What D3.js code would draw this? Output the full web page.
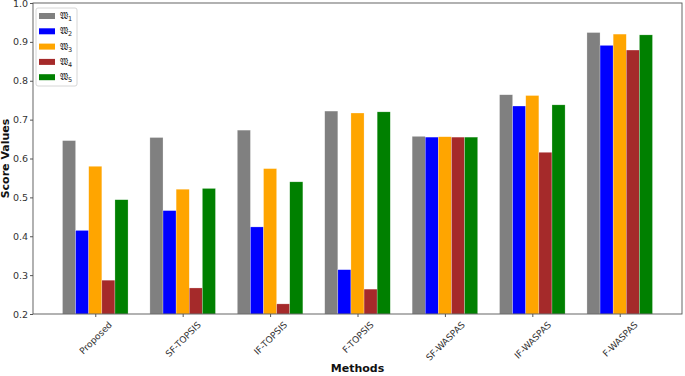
<!DOCTYPE html>
<html>
<head>
<meta charset="utf-8">
<script src="https://cdn.jsdelivr.net/npm/d3@7"></script>
<style>
  body { margin: 0; background: #fff; }
  svg { font-family: "DejaVu Sans", sans-serif; }
</style>
</head>
<body>
<div id="chart"></div>
<script>
const methods = ['Proposed', 'SF-TOPSIS', 'IF-TOPSIS', 'F-TOPSIS', 'SF-WASPAS', 'IF-WASPAS', 'F-WASPAS'];
const seriesNames = ['1', '2', '3', '4', '5'];
const seriesColors = ['#808080', '#0000ff', '#ffa500', '#a52a2a', '#008000'];
const w1 = [0.646, 0.654, 0.673, 0.722, 0.657, 0.764, 0.924];
const w2 = [0.415, 0.466, 0.424, 0.314, 0.655, 0.735, 0.891];
const w3 = [0.580, 0.521, 0.574, 0.717, 0.656, 0.762, 0.920];
const w4 = [0.287, 0.267, 0.226, 0.264, 0.655, 0.616, 0.879];
const w5 = [0.494, 0.523, 0.540, 0.720, 0.655, 0.738, 0.918];
const yTicks = [0.2, 0.3, 0.4, 0.5, 0.6, 0.7, 0.8, 0.9, 1.0];

const series = [w1, w2, w3, w4, w5];
const width = 685, height = 376;
const margin = { left: 33, right: 3, top: 3, bottom: 62 };
const barW = 0.15;

const svg = d3.select('#chart').append('svg')
  .attr('width', width)
  .attr('height', height);

// x in "data units" like matplotlib: groups at 0..6
const x = d3.scaleLinear()
  .domain([-0.7125, methods.length - 1 + 0.7125])
  .range([margin.left, width - margin.right]);

const y = d3.scaleLinear()
  .domain([0.2, 1.0])
  .range([height - margin.bottom, margin.top]);

// bars
series.forEach((vals, s) => {
  svg.append('g')
    .selectAll('rect')
    .data(vals)
    .join('rect')
    .attr('x', (d, i) => x(i + (s - 2) * barW - barW / 2))
    .attr('width', x(barW) - x(0))
    .attr('y', d => y(d))
    .attr('height', d => y(0.2) - y(d))
    .attr('fill', seriesColors[s])
    .attr('stroke', '#fff')
    .attr('stroke-opacity', 0.5)
    .attr('stroke-width', 0.5);
});

// frame
svg.append('rect')
  .attr('x', margin.left)
  .attr('y', margin.top)
  .attr('width', width - margin.left - margin.right)
  .attr('height', height - margin.top - margin.bottom)
  .attr('fill', 'none')
  .attr('stroke', '#555')
  .attr('stroke-width', 0.9);

// y axis
const yAxis = svg.append('g')
  .attr('transform', `translate(${margin.left},0)`)
  .call(d3.axisLeft(y).tickValues(yTicks).tickFormat(d3.format('.1f')).tickSize(3).tickPadding(2));
yAxis.select('.domain').remove();
yAxis.selectAll('line').attr('stroke', '#555');
yAxis.selectAll('text').attr('font-size', 9.5).attr('fill', '#333')
  .attr('font-family', '"DejaVu Sans", sans-serif');

// x axis, labels rotated 45 and centred under the tick (matplotlib ha=center)
const xAxis = svg.append('g')
  .attr('transform', `translate(0,${height - margin.bottom})`)
  .call(d3.axisBottom(x).tickValues(d3.range(methods.length)).tickFormat(i => methods[i]).tickSize(3));
xAxis.select('.domain').remove();
xAxis.selectAll('line').attr('stroke', '#555');
const fs = 9;
xAxis.selectAll('text')
  .attr('font-size', fs)
  .attr('fill', '#333')
  .attr('font-family', '"DejaVu Sans", sans-serif')
  .attr('text-anchor', 'middle')
  .attr('y', 0)
  .attr('dy', '0.35em')
  .attr('transform', function () {
    const len = this.getComputedTextLength();
    const half = (len + fs) * Math.SQRT1_2 / 2;
    return `translate(0,${6 + half}) rotate(-45)`;
  });

// axis titles
svg.append('text')
  .attr('x', x((methods.length - 1) / 2))
  .attr('y', 372)
  .attr('text-anchor', 'middle')
  .attr('font-size', 11)
  .attr('font-weight', 'bold')
  .attr('fill', '#111')
  .text('Methods');

svg.append('text')
  .attr('transform', `translate(9,${y(0.6)}) rotate(-90)`)
  .attr('text-anchor', 'middle')
  .attr('font-size', 11)
  .attr('font-weight', 'bold')
  .attr('fill', '#111')
  .text('Score Values');

// legend
const legend = svg.append('g').attr('transform', 'translate(36,8)');
legend.append('rect')
  .attr('width', 41)
  .attr('height', 78)
  .attr('rx', 2)
  .attr('fill', '#fff')
  .attr('fill-opacity', 0.8)
  .attr('stroke', '#ccc')
  .attr('stroke-width', 0.8);
const item = legend.selectAll('g.item')
  .data(seriesNames)
  .join('g')
  .attr('class', 'item')
  .attr('transform', (d, i) => `translate(3,${5 + i * 15.3})`);
item.append('rect')
  .attr('width', 16)
  .attr('height', 6)
  .attr('fill', (d, i) => seriesColors[i]);
const lt = item.append('text')
  .attr('x', 21)
  .attr('y', 6)
  .attr('font-size', 9)
  .attr('fill', '#222');
lt.append('tspan').text('\u{1D51A}');
lt.append('tspan').attr('font-size', 6.5).attr('dy', 2).text(d => d);
</script>
</body>
</html>
